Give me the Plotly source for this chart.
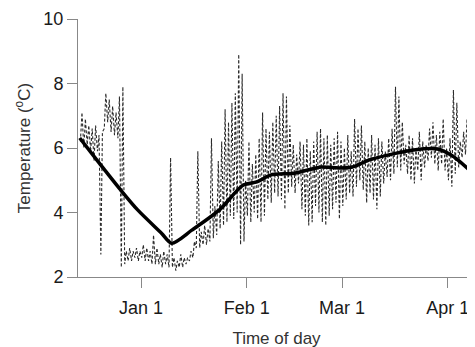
import pandas as pd
import plotly.graph_objects as go

# Daily high / low of the raw (dashed) temperature record, Dec 14 2006 .. Apr 9 2007
start_day = "2006-12-14"
daily_high = [
    7.1, 6.9, 6.7, 6.6, 6.7, 6.4, 6.5, 7.7, 7.5, 7.3, 7.1, 7.6, 7.9,   # Dec 14-26
    2.8, 2.9, 2.8, 2.9, 2.8,                                          # Dec 27-31
    3.0, 2.9, 2.8, 3.3, 2.9, 2.7, 2.8, 2.7, 5.7, 2.6, 2.5, 2.7, 2.6,  # Jan 1-13
    2.6, 2.8, 3.1, 5.9, 3.4, 3.6, 3.5, 6.3, 4.2, 5.6, 6.2, 7.2, 6.8,  # Jan 14-26
    7.4, 7.7, 8.9, 8.3, 5.0,                                          # Jan 27-31
    6.2, 5.5, 5.8, 6.3, 7.1, 6.6, 6.5, 6.8, 7.0, 7.3, 7.7, 7.6, 6.7,  # Feb 1-13
    6.1, 5.8, 6.2, 6.1, 6.3, 5.9, 6.2, 6.5, 6.6, 6.3, 6.4, 6.1, 6.3,  # Feb 14-26
    6.5, 6.2,                                                         # Feb 27-28
    6.0, 6.4, 5.9, 6.9, 6.6, 6.7, 6.2, 6.0, 6.4, 6.1, 6.3, 6.2, 5.9,  # Mar 1-13
    6.3, 6.6, 7.9, 7.6, 6.8, 6.1, 6.4, 6.3, 6.0, 6.5, 6.2, 6.1, 6.6,  # Mar 14-26
    6.8, 6.4, 6.5, 6.9, 6.0,                                          # Mar 27-31
    6.3, 7.8, 7.4, 6.2, 6.5, 6.9, 6.3, 6.6, 6.1,                      # Apr 1-9
]
daily_low = [
    6.2, 6.0, 6.1, 5.9, 5.6, 5.9, 2.7, 6.6, 6.8, 6.5, 6.4, 6.3, 2.3,
    2.4, 2.5, 2.5, 2.6, 2.5,
    2.6, 2.5, 2.5, 2.4, 2.4, 2.4, 2.3, 2.4, 2.3, 2.3, 2.2, 2.3, 2.3,
    2.4, 2.5, 2.6, 2.9, 2.9, 3.0, 3.0, 3.1, 3.2, 3.3, 3.5, 3.6, 3.7,
    3.9, 3.8, 4.0, 3.0, 3.1,
    3.9, 3.7, 4.0, 3.8, 3.7, 3.9, 4.4, 4.3, 4.6, 4.5, 4.4, 4.1, 4.6,
    4.8, 4.6, 4.9, 4.1, 3.9, 3.6, 3.7, 4.2, 4.0, 3.7, 3.6, 3.9, 4.1,
    4.3, 3.8,
    4.2, 4.4, 4.6, 4.5, 4.8, 5.0, 4.7, 4.3, 4.6, 4.4, 4.1, 4.5, 4.9,
    5.1, 5.0, 5.2, 5.4, 5.3, 5.5, 5.2, 5.0, 4.9, 5.3, 5.0, 5.4, 5.6,
    5.7, 5.5, 5.3, 5.5, 5.3,
    5.0, 4.8, 5.2, 5.4, 5.7, 5.8, 5.6, 5.5, 5.4,
]

# Smoothed (thick) curve
smooth_dates = [
    "2006-12-14", "2006-12-19", "2006-12-26", "2006-12-31", "2007-01-07",
    "2007-01-10", "2007-01-16", "2007-01-24", "2007-01-31", "2007-02-04",
    "2007-02-08", "2007-02-15", "2007-02-23", "2007-02-28", "2007-03-04",
    "2007-03-09", "2007-03-17", "2007-03-22", "2007-03-29", "2007-04-02",
    "2007-04-08",
]
smooth_values = [
    6.31, 5.63, 4.70, 4.08, 3.36,
    3.05, 3.46, 4.08, 4.85, 4.95,
    5.16, 5.22, 5.41, 5.38, 5.41,
    5.63, 5.84, 5.94, 5.97, 5.78,
    5.26,
]

tick_dates = ["2007-01-01", "2007-02-01", "2007-03-01", "2007-04-01"]
tick_labels = ["Jan 1", "Feb 1", "Mar 1", "Apr 1"]
y_ticks = [2, 4, 6, 8, 10]

# Build raw series: low in the early morning, high in the afternoon
days = pd.date_range(start_day, periods=len(daily_high), freq="D")
raw_x, raw_y = [], []
for d, lo, hi in zip(days, daily_low, daily_high):
    raw_x.append(d + pd.Timedelta(hours=5))
    raw_y.append(lo)
    raw_x.append(d + pd.Timedelta(hours=16))
    raw_y.append(hi)

fig = go.Figure()
fig.add_trace(go.Scatter(
    x=raw_x, y=raw_y, mode="lines",
    line=dict(color="#2a2a2a", width=1.1, dash="3px,2px"),
    hoverinfo="skip", showlegend=False,
))
fig.add_trace(go.Scatter(
    x=pd.to_datetime(smooth_dates), y=smooth_values, mode="lines",
    line=dict(color="black", width=3.5, shape="spline", smoothing=0.8),
    showlegend=False,
))

font = dict(family="Liberation Sans, Arial, sans-serif", size=18, color="#1a1a1a")

# page body has an 8px margin, so the figure is offset by 8px right/down
fig.update_layout(
    width=475, height=347,
    margin=dict(l=70, r=8, t=11, b=78, autoexpand=False),
    paper_bgcolor="white", plot_bgcolor="white",
    font=font,
    showlegend=False,
)
fig.update_xaxes(
    range=["2006-12-13 12:00", "2007-04-09 00:00"],
    tickvals=pd.to_datetime(tick_dates), ticktext=tick_labels,
    ticks="outside", ticklen=10, tickcolor="#888888",
    showline=True, linecolor="#888888", linewidth=1,
    showgrid=False, zeroline=False, automargin=False,
    ticklabeloverflow="allow", ticklabelstandoff=4,
    title=dict(text="Time of day", font=dict(size=17, color="#333333"), standoff=15),
)
fig.update_yaxes(
    range=[2, 10],
    tickvals=y_ticks,
    ticks="outside", ticklen=10, tickcolor="#888888",
    showline=True, linecolor="#888888", linewidth=1,
    showgrid=False, zeroline=False, automargin=False,
    ticklabelstandoff=0,
    title=dict(text="Temperature (<sup>o</sup>C)", font=dict(size=17, color="#333333"), standoff=8),
)

fig.write_html("out.html")
